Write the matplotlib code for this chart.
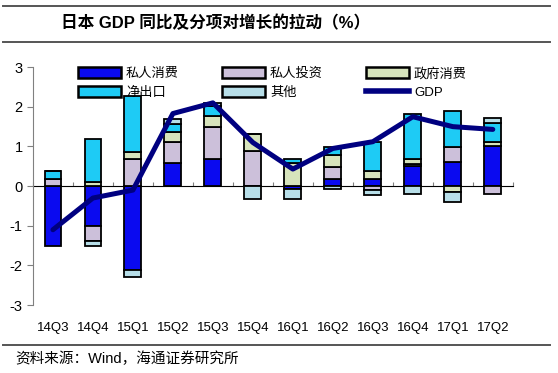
import numpy as np
import matplotlib
matplotlib.use("Agg")
from matplotlib import pyplot as plt
from matplotlib.lines import Line2D

plt.rcParams['font.family'] = ['Liberation Sans', 'Noto Sans CJK SC', 'DejaVu Sans']
plt.rcParams['axes.unicode_minus'] = False

# Data
quarters = ["14Q3", "14Q4", "15Q1", "15Q2", "15Q3", "15Q4",
            "16Q1", "16Q2", "16Q3", "16Q4", "17Q1", "17Q2"]
consumption = [-1.52, -1.00, -2.12, 0.59, 0.68, 0.00, -0.07, 0.17, 0.17, 0.51, 0.61, 1.00]
investment = [0.17, -0.38, 0.68, 0.53, 0.81, 0.89, 0.00, 0.31, -0.10, 0.05, 0.38, -0.20]
government = [0.00, 0.10, 0.17, 0.25, 0.28, 0.42, 0.58, 0.30, 0.20, 0.12, -0.16, 0.10]
net_exports = [0.21, 1.10, 1.43, 0.19, 0.25, 0.00, 0.10, 0.20, 0.75, 1.13, 0.91, 0.49]
other = [0.00, -0.14, -0.16, 0.14, 0.08, -0.33, -0.26, -0.08, -0.12, -0.20, -0.23, 0.12]
gdp = [-1.10, -0.30, -0.10, 1.83, 2.10, 1.10, 0.43, 0.95, 1.12, 1.75, 1.50, 1.43]

names = ["私人消费", "私人投资", "政府消费", "净出口", "其他"]
colors = ["#0A0AF0", "#CCC0DA", "#D7E4BC", "#1ECBF5", "#B7DEE8"]
series = [consumption, investment, government, net_exports, other]

fig = plt.figure(figsize=(5.58, 3.73), dpi=100)
ax = fig.add_axes([0.059, 0.182, 0.86, 0.638])

x = np.arange(len(quarters))
pos_base = np.zeros(len(quarters))
neg_base = np.zeros(len(quarters))
for vals, c in zip(series, colors):
    v = np.array(vals)
    bottom = np.where(v >= 0, pos_base, neg_base)
    ax.bar(x, v, 0.42, bottom=bottom, color=c, edgecolor="black", linewidth=1.3, zorder=2)
    pos_base = pos_base + np.where(v > 0, v, 0)
    neg_base = neg_base + np.where(v < 0, v, 0)

ax.plot(x, gdp, color="#000080", linewidth=3.6, zorder=3, solid_capstyle="round")

ax.set_xlim(-0.5, 11.5)
ax.set_ylim(-3, 3)
ax.set_yticks([-3, -2, -1, 0, 1, 2, 3])
ax.set_xticks(x)
ax.set_xticklabels(quarters)
ax.tick_params(axis="x", length=0, labelsize=9.5, pad=12)
ax.tick_params(axis="y", direction="out", length=4, color="gray", labelsize=10.5)
for s in ["top", "right", "bottom"]:
    ax.spines[s].set_visible(False)
ax.spines["left"].set_color("gray")

# zero axis with tick marks between categories
sec = ax.secondary_xaxis(0.5)
sec.set_xticks(np.arange(-0.5, 12, 1))
sec.tick_params(axis="x", direction="out", length=3, color="gray", labelbottom=False, labeltop=False)
sec.spines["bottom"].set_color("gray")
sec.spines["bottom"].set_linewidth(1.5)

handles = [plt.Rectangle((0, 0), 1, 1, facecolor=c, edgecolor="black", linewidth=1.8) for c in colors]
handles.append(Line2D([0], [0], color="#000080", linewidth=4))
labels = names + ["GDP"]
order = [0, 3, 1, 4, 2, 5]
ax.legend([handles[i] for i in order], [labels[i] for i in order], ncol=3,
          loc="upper left", bbox_to_anchor=(0.07, 1.05), frameon=False,
          fontsize=9.5, handlelength=3.2, handleheight=0.9, columnspacing=3.3,
          labelspacing=0.45, handletextpad=0.4)

# title and footer
line_kw = dict(color="#555555", linewidth=1.4)
fig.add_artist(Line2D([0.005, 0.986], [0.985, 0.985], **line_kw))
fig.add_artist(Line2D([0.005, 0.986], [0.888, 0.888], **line_kw))
fig.text(0.11, 0.938, "日本 GDP 同比及分项对增长的拉动（%）", fontsize=12,
         fontweight="bold", va="center", ha="left")
fig.add_artist(Line2D([0.005, 0.986], [0.075, 0.075], **line_kw))
fig.text(0.027, 0.038, "资料来源：Wind，海通证券研究所", fontsize=10.5, va="center", ha="left")

fig.savefig("out.png", dpi=100)
